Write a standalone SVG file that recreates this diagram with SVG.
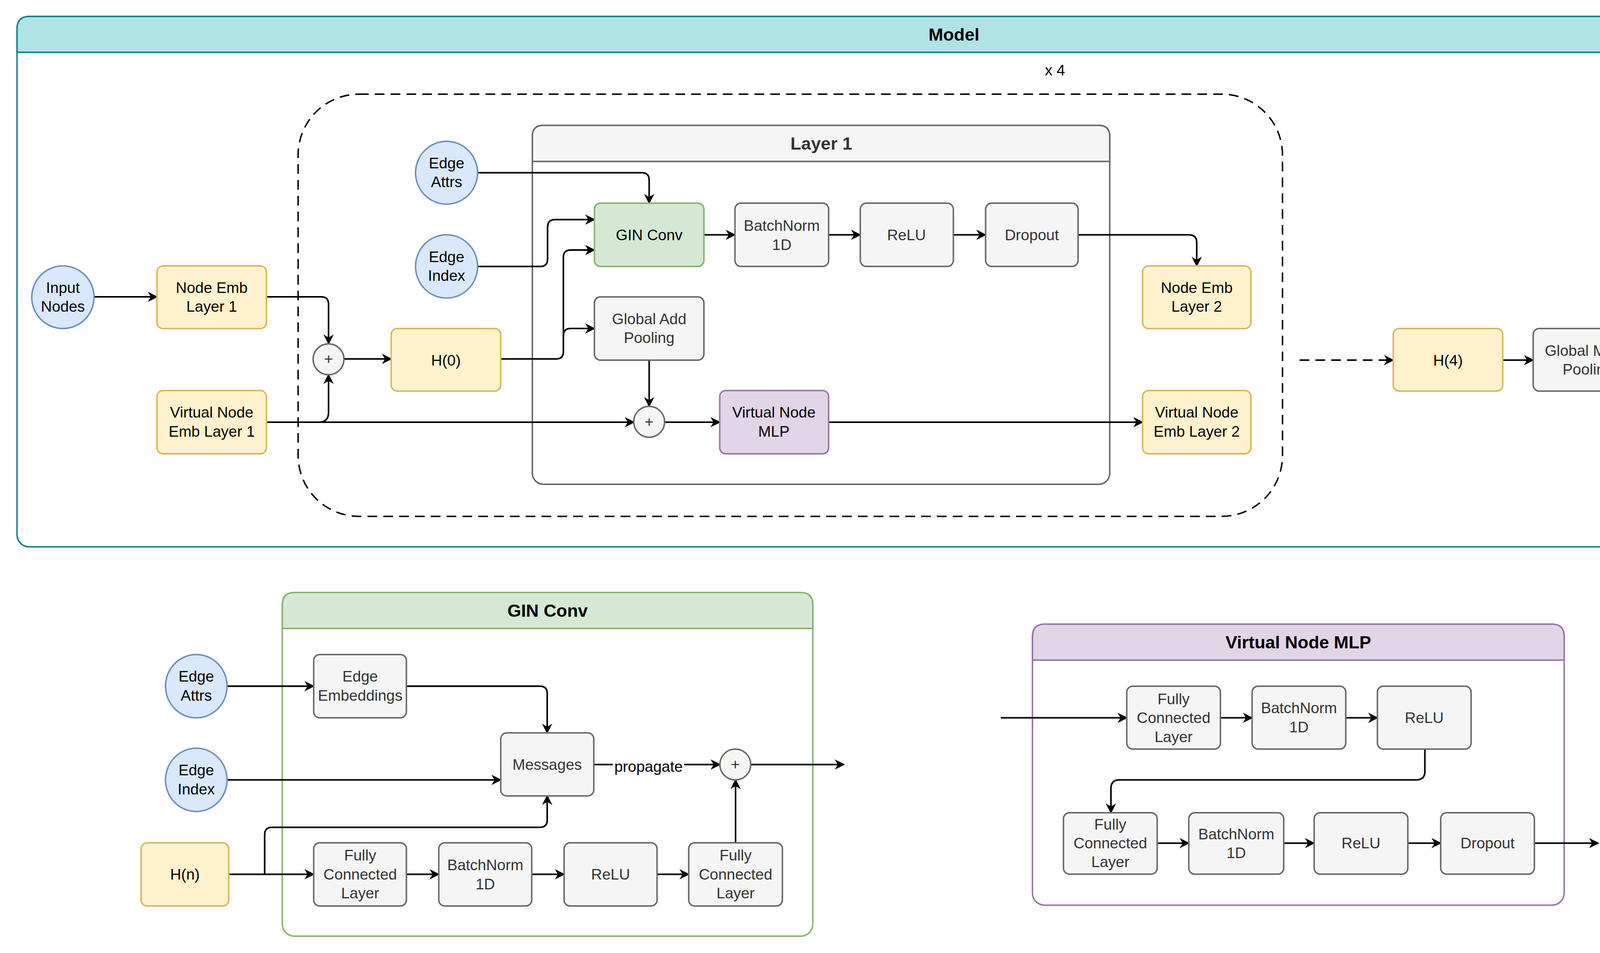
<svg xmlns="http://www.w3.org/2000/svg" width="4884" height="2440" viewBox="0 0 4884 2440">
<style>
text{font-family:"Liberation Sans",Arial,sans-serif;font-size:12.5px;text-anchor:middle;dominant-baseline:central;fill:#000}
.t{font-weight:bold;font-size:14.5px}
.g text,text.g{fill:#333}
.y{fill:#fff2cc;stroke:#d6b656;stroke-width:1.2}
.b{fill:#dae8fc;stroke:#6c8ebf;stroke-width:1.2}
.gr{fill:#f5f5f5;stroke:#666;stroke-width:1.2}
.gn{fill:#d5e8d4;stroke:#82b366;stroke-width:1.2}
.pu{fill:#e1d5e7;stroke:#9673a6;stroke-width:1.2}
.or{fill:#ffe6cc;stroke:#d79b00;stroke-width:1.2}
.rd{fill:#f8cecc;stroke:#b85450;stroke-width:1.2}
.c path{fill:none;stroke:#000;stroke-width:1.3;marker-end:url(#a)}
</style>
<defs>
<marker id="a" viewBox="0 0 10 10" refX="9" refY="5" markerWidth="6.5" markerHeight="6.5" orient="auto"><path d="M0,0 L10,5 L0,10 L3,5 z" fill="#000"/></marker>
</defs>
<rect width="4884" height="2440" fill="#fff"/>
<g transform="scale(3.115)">
<!-- containers -->
<g id="model">
<rect x="14" y="13.5" width="1540" height="436" rx="10" fill="#fff" stroke="#0e8088" stroke-width="1.2"/>
<path d="M14,43 V23.5 Q14,13.5 24,13.5 H1544 Q1554,13.5 1554,23.5 V43 Z" fill="#b0e3e6" stroke="#0e8088" stroke-width="1.2"/>
<text class="t" x="784" y="28.5">Model</text>
</g>
<g id="repeat">
<rect x="245" y="77.4" width="809" height="347" rx="50" fill="none" stroke="#000" stroke-width="1.2" stroke-dasharray="8,5"/>
<text x="867" y="57.5">x 4</text>
</g>
<g id="layer1">
<rect x="437.5" y="103" width="474.5" height="295" rx="9" fill="#fff" stroke="#666" stroke-width="1.2"/>
<path d="M437.5,132.7 V112 Q437.5,103 446.5,103 H903 Q912,103 912,112 V132.7 Z" fill="#f5f5f5" stroke="#666" stroke-width="1.2"/>
<text class="t g" x="675" y="118" style="fill:#333">Layer 1</text>
</g>
<g id="ginconv-box">
<rect x="232" y="487" width="436" height="282.5" rx="10" fill="#fff" stroke="#82b366" stroke-width="1.2"/>
<path d="M232,516.6 V497 Q232,487 242,487 H658 Q668,487 668,497 V516.6 Z" fill="#d5e8d4" stroke="#82b366" stroke-width="1.2"/>
<text class="t" x="450" y="502">GIN Conv</text>
</g>
<g id="vnmlp-box">
<rect x="848.5" y="513" width="437" height="231" rx="10" fill="#fff" stroke="#9673a6" stroke-width="1.2"/>
<path d="M848.5,542.6 V523 Q848.5,513 858.5,513 H1275.5 Q1285.5,513 1285.5,523 V542.6 Z" fill="#e1d5e7" stroke="#9673a6" stroke-width="1.2"/>
<text class="t" x="1067" y="528">Virtual Node MLP</text>
</g>
<!-- connectors -->
<g id="connectors" class="c">
<path d="M77.5,244 H129"/>
<path d="M219,244 H264 Q270,244 270,250 V282.5"/>
<path d="M219,347 H521"/>
<path d="M262,347 Q270,347 270,339 V308"/>
<path d="M283,295 H321.5"/>
<path d="M392.5,142 H527.5 Q533.5,142 533.5,148 V167"/>
<path d="M392.5,219 H444 Q450,219 450,213 V187 Q450,180.5 456,180.5 H488.5"/>
<path d="M411.5,295 H457 Q463,295 463,289 V276 Q463,270 469,270 H488.5"/>
<path d="M463,277 V211.5 Q463,205.5 469,205.5 H488.5"/>
<path d="M578.5,193 H604"/>
<path d="M681,193 H707"/>
<path d="M783.5,193 H810"/>
<path d="M886,193 H977 Q983.5,193 983.5,199.5 V218.6"/>
<path d="M533.5,296 V334"/>
<path d="M546,347 H591.5"/>
<path d="M681,347 H939"/>
<path d="M1068,296 H1145" stroke-dasharray="8,5"/>
<path d="M1235,296 H1260"/>
<path d="M1350,296 H1376"/>
<path d="M1453,296 H1479"/>
<!-- GIN conv detail -->
<path d="M186.6,564 H257.8"/>
<path d="M334,564 H443.7 Q449.7,564 449.7,570 V602.4"/>
<path d="M186.6,641 H411.5"/>
<path d="M188,718.6 H257.8"/>
<path d="M217.5,718.6 V686 Q217.5,680 223.5,680 H443.7 Q449.7,680 449.7,674 V654"/>
<path d="M334,718.6 H360.6"/>
<path d="M437,718.6 H463.6"/>
<path d="M540,718.6 H566"/>
<path d="M604.5,692.7 V641"/>
<path d="M488,628.4 H591.6"/>
<path d="M617,628.4 H693.6"/>
<!-- VN MLP detail -->
<path d="M822.5,590 H926"/>
<path d="M1003,590 H1029"/>
<path d="M1106,590 H1132"/>
<path d="M1171,615.7 V634 Q1171,641 1164,641 H920 Q913,641 913,648 V668"/>
<path d="M951,693 H977"/>
<path d="M1055,693 H1080"/>
<path d="M1157,693 H1184"/>
<path d="M1261,693 H1313.5"/>
</g>
<text x="533" y="630" style="font-size:12.5px" stroke="#fff" stroke-width="4" paint-order="stroke">propagate</text>
<!-- nodes -->
<g id="input-nodes"><ellipse class="b" cx="51.7" cy="244.3" rx="25.6" ry="25.7"/><text x="51.7" y="236.5">Input</text><text x="51.7" y="252">Nodes</text></g>
<g id="node-emb-1"><rect class="y" x="129" y="218.6" width="90" height="51.5" rx="5"/><text x="174" y="236.5">Node Emb</text><text x="174" y="252">Layer 1</text></g>
<g id="vn-emb-1"><rect class="y" x="129" y="321" width="90" height="52" rx="5"/><text x="174" y="339">Virtual Node</text><text x="174" y="354.5">Emb Layer 1</text></g>
<g id="plus-1"><circle class="gr" cx="270" cy="295.3" r="12.7"/><text class="g" x="270" y="295">+</text></g>
<g id="h0"><rect class="y" x="321.5" y="270" width="90" height="51.5" rx="5"/><text x="366.5" y="296">H(0)</text></g>
<g id="edge-attrs"><ellipse class="b" cx="367" cy="142" rx="25.5" ry="25.8"/><text x="367" y="134">Edge</text><text x="367" y="149.5">Attrs</text></g>
<g id="edge-index"><ellipse class="b" cx="367" cy="219" rx="25.5" ry="26"/><text x="367" y="211">Edge</text><text x="367" y="226.5">Index</text></g>
<g id="gin-conv"><rect class="gn" x="488.5" y="167" width="90" height="52" rx="5"/><text x="533.5" y="193">GIN Conv</text></g>
<g id="bn1d" class="g"><rect class="gr" x="604" y="167" width="77" height="52" rx="5"/><text x="642.5" y="185.5">BatchNorm</text><text x="642.5" y="201">1D</text></g>
<g id="relu" class="g"><rect class="gr" x="707" y="167" width="76.5" height="52" rx="5"/><text x="745" y="193">ReLU</text></g>
<g id="dropout" class="g"><rect class="gr" x="810" y="167" width="76" height="52" rx="5"/><text x="848" y="193">Dropout</text></g>
<g id="global-add-pool" class="g"><rect class="gr" x="488.5" y="244" width="90" height="52" rx="5"/><text x="533.5" y="262">Global Add</text><text x="533.5" y="277.5">Pooling</text></g>
<g id="plus-2"><circle class="gr" cx="533.5" cy="346.7" r="12.7"/><text class="g" x="533.5" y="346.5">+</text></g>
<g id="vn-mlp"><rect class="pu" x="591.5" y="321" width="89.5" height="52" rx="5"/><text x="636" y="339">Virtual Node</text><text x="636" y="354.5">MLP</text></g>
<g id="node-emb-2"><rect class="y" x="939" y="218.6" width="89" height="51.5" rx="5"/><text x="983.5" y="236.5">Node Emb</text><text x="983.5" y="252">Layer 2</text></g>
<g id="vn-emb-2"><rect class="y" x="939" y="321" width="89" height="52" rx="5"/><text x="983.5" y="339">Virtual Node</text><text x="983.5" y="354.5">Emb Layer 2</text></g>
<g id="h4"><rect class="y" x="1145" y="270" width="90" height="51.5" rx="5"/><text x="1190" y="296">H(4)</text></g>
<g id="global-mean-pool" class="g"><rect class="gr" x="1260" y="270" width="90" height="51.5" rx="5"/><text x="1305" y="288">Global Mean</text><text x="1305" y="303.5">Pooling</text></g>
<g id="classifier"><rect class="or" x="1376" y="270" width="77" height="51.5" rx="5"/><text x="1414.5" y="288">Classifier</text><text x="1414.5" y="303.5">(FC Layer)</text></g>
<g id="class-scores"><ellipse class="rd" cx="1504.5" cy="296" rx="25.5" ry="25.8"/><text x="1504.5" y="288">Class</text><text x="1504.5" y="303.5">Scores</text></g>
<!-- GIN conv detail nodes -->
<g id="g-edge-attrs"><ellipse class="b" cx="161.3" cy="564" rx="25.3" ry="26"/><text x="161.3" y="556">Edge</text><text x="161.3" y="571.5">Attrs</text></g>
<g id="g-edge-index"><ellipse class="b" cx="161.3" cy="641" rx="25.3" ry="26"/><text x="161.3" y="633">Edge</text><text x="161.3" y="648.5">Index</text></g>
<g id="g-hn"><rect class="y" x="116" y="692.7" width="72" height="52" rx="5"/><text x="152" y="718.6">H(n)</text></g>
<g id="g-edge-emb" class="g"><rect class="gr" x="257.8" y="538" width="76.2" height="52" rx="5"/><text x="296" y="556">Edge</text><text x="296" y="571.5">Embeddings</text></g>
<g id="g-messages" class="g"><rect class="gr" x="411.5" y="602.4" width="76.5" height="51.8" rx="5"/><text x="449.7" y="628.4">Messages</text></g>
<g id="g-plus"><circle class="gr" cx="604.3" cy="628.4" r="12.7"/><text class="g" x="604.3" y="628">+</text></g>
<g id="g-fc1" class="g"><rect class="gr" x="257.8" y="692.7" width="76.2" height="52" rx="5"/><text x="296" y="703">Fully</text><text x="296" y="718.6">Connected</text><text x="296" y="734">Layer</text></g>
<g id="g-bn" class="g"><rect class="gr" x="360.6" y="692.7" width="76.4" height="52" rx="5"/><text x="398.8" y="711">BatchNorm</text><text x="398.8" y="726.5">1D</text></g>
<g id="g-relu" class="g"><rect class="gr" x="463.6" y="692.7" width="76.4" height="52" rx="5"/><text x="501.8" y="718.6">ReLU</text></g>
<g id="g-fc2" class="g"><rect class="gr" x="566" y="692.7" width="77" height="52" rx="5"/><text x="604.5" y="703">Fully</text><text x="604.5" y="718.6">Connected</text><text x="604.5" y="734">Layer</text></g>
<!-- VN MLP detail nodes -->
<g id="v-fc1" class="g"><rect class="gr" x="926" y="564" width="77" height="51.7" rx="5"/><text x="964.5" y="574.5">Fully</text><text x="964.5" y="590">Connected</text><text x="964.5" y="605.5">Layer</text></g>
<g id="v-bn1" class="g"><rect class="gr" x="1029" y="564" width="77" height="51.7" rx="5"/><text x="1067.5" y="582">BatchNorm</text><text x="1067.5" y="597.5">1D</text></g>
<g id="v-relu1" class="g"><rect class="gr" x="1132" y="564" width="77" height="51.7" rx="5"/><text x="1170.5" y="590">ReLU</text></g>
<g id="v-fc2" class="g"><rect class="gr" x="874" y="668" width="77" height="50.5" rx="5"/><text x="912.5" y="677.5">Fully</text><text x="912.5" y="693">Connected</text><text x="912.5" y="708.5">Layer</text></g>
<g id="v-bn2" class="g"><rect class="gr" x="977" y="668" width="78" height="50.5" rx="5"/><text x="1016" y="685.5">BatchNorm</text><text x="1016" y="701">1D</text></g>
<g id="v-relu2" class="g"><rect class="gr" x="1080" y="668" width="77" height="50.5" rx="5"/><text x="1118.5" y="693">ReLU</text></g>
<g id="v-dropout" class="g"><rect class="gr" x="1184" y="668" width="77" height="50.5" rx="5"/><text x="1222.5" y="693">Dropout</text></g>
</g>
</svg>
